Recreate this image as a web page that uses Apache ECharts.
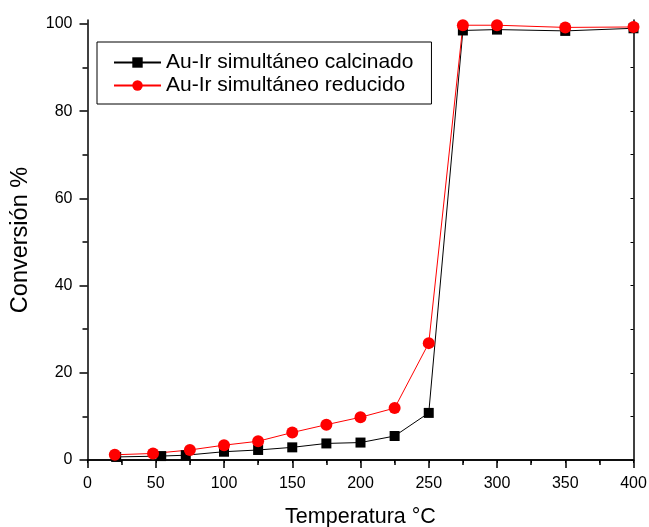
<!DOCTYPE html>
<html>
<head>
<meta charset="utf-8">
<script src="https://cdn.jsdelivr.net/npm/echarts@6/dist/echarts.min.js"></script>
<style>
    html, body { margin: 0; padding: 0; background: #fff; }
    #chart { width: 649px; height: 527px; }
</style>
</head>
<body>
<div id="chart"></div>
<script>
    // values
    let calcTemp = [21, 54, 72, 100, 125, 150, 175, 200, 225, 250, 275, 300, 350, 400];
    let calcConv = [0.7, 0.9, 1.1, 1.9, 2.3, 2.9, 3.8, 4.0, 5.5, 10.8, 98.5, 98.7, 98.4, 99.0];
    let redTemp = [20, 48, 75, 100, 125, 150, 175, 200, 225, 250, 275, 300, 350, 400];
    let redConv = [1.2, 1.5, 2.3, 3.4, 4.3, 6.3, 8.1, 9.8, 11.9, 26.8, 99.7, 99.7, 99.2, 99.3];
    let yLabels = [0, 20, 40, 60, 80, 100];
    let yMinor = [10, 30, 50, 70, 90];
    let yAll = [0, 10, 20, 30, 40, 50, 60, 70, 80, 90, 100];
    let xTop = [0, 25, 50, 75, 100, 125, 150, 175, 200, 225, 250, 275, 300, 325, 350, 375, 400];

    function pairs(xs, ys) {
        return xs.map((x, i) => [x, ys[i]]);
    }

    let font = "Arial, 'Liberation Sans', sans-serif";
    let chart = echarts.init(document.getElementById("chart"), null, {renderer: "canvas"});

    let option = {
        animation: false,
        grid: {left: 87.5, right: 15.5, top: 20, bottom: 67, containLabel: false, outerBoundsMode: "none"},
        legend: {
            orient: "vertical",
            left: 97,
            top: 42,
            padding: [10, 18, 8, 16],
            itemGap: 2,
            itemWidth: 47,
            itemHeight: 13,
            borderColor: "#000",
            borderWidth: 1,
            textStyle: {fontFamily: font, fontSize: 21, color: "#000", lineHeight: 21},
            data: ["Au-Ir simultáneo calcinado", "Au-Ir simultáneo reducido"]
        },
        xAxis: [
            {
                type: "value", min: 0, max: 400, interval: 50,
                name: "Temperatura °C", nameLocation: "middle", nameGap: 46,
                nameTextStyle: {fontFamily: font, fontSize: 21.5, color: "#000"},
                axisLine: {lineStyle: {color: "#000", width: 1.5}},
                axisTick: {inside: false, length: 8, lineStyle: {color: "#000", width: 1.5}},
                minorTick: {show: true, splitNumber: 2, length: 5, lineStyle: {color: "#000", width: 1.5}},
                axisLabel: {fontFamily: font, fontSize: 16, color: "#000", margin: 16},
                splitLine: {show: false}
            },
            {
                type: "value", min: 0, max: 400, position: "top",
                axisLine: {lineStyle: {color: "#000", width: 1.5}},
                axisTick: {inside: true, length: 3, customValues: xTop, lineStyle: {color: "#000"}},
                axisLabel: {show: false},
                splitLine: {show: false}
            }
        ],
        yAxis: [
            {
                type: "value", min: 0, max: 100.9, interval: 20,
                name: "Conversión %", nameLocation: "middle", nameGap: 55,
                nameTextStyle: {fontFamily: font, fontSize: 23.5, color: "#000"},
                axisLine: {show: true, lineStyle: {color: "#000", width: 1.5}},
                axisTick: {show: true, inside: false, length: 8, customValues: yLabels, lineStyle: {color: "#000", width: 1.5}},
                axisLabel: {fontFamily: font, fontSize: 16, color: "#000", margin: 15, customValues: yLabels},
                splitLine: {show: false}
            },
            {
                type: "value", min: 0, max: 100.9, position: "left",
                axisLine: {show: false},
                axisTick: {show: true, inside: false, length: 5, customValues: yMinor, lineStyle: {color: "#000", width: 1.5}},
                axisLabel: {show: false},
                splitLine: {show: false}
            },
            {
                type: "value", min: 0, max: 100.9, position: "right",
                axisLine: {show: true, lineStyle: {color: "#000", width: 1.5}},
                axisTick: {show: true, inside: true, length: 3, customValues: yAll, lineStyle: {color: "#000"}},
                axisLabel: {show: false},
                splitLine: {show: false}
            }
        ],
        series: [
            {
                name: "Au-Ir simultáneo calcinado",
                type: "line",
                data: pairs(calcTemp, calcConv),
                symbol: "rect",
                symbolSize: 10,
                itemStyle: {color: "#000"},
                lineStyle: {color: "#000", width: 1}
            },
            {
                name: "Au-Ir simultáneo reducido",
                type: "line",
                data: pairs(redTemp, redConv),
                symbol: "circle",
                symbolSize: 12,
                itemStyle: {color: "#ff0000"},
                lineStyle: {color: "#ff0000", width: 1}
            }
        ]
    };

    chart.setOption(option);
</script>
</body>
</html>
